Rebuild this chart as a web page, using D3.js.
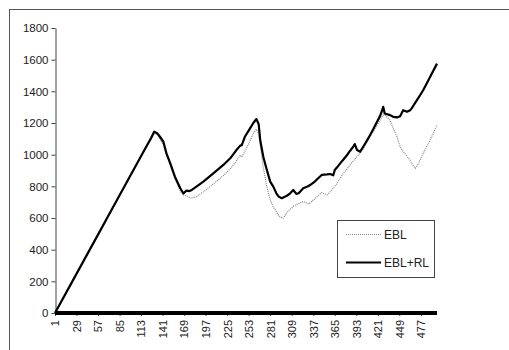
<!DOCTYPE html>
<html>
<head>
<meta charset="utf-8">
<script src="https://cdn.jsdelivr.net/npm/d3@7"></script>
<style>
  body { margin: 0; background: #fff; }
  svg { display: block; font-family: "Liberation Sans", Arial, sans-serif; }
</style>
</head>
<body>
<div id="chart"></div>
<script>
// sampled category positions (x axis runs 1..498)
let cats = [1, 20, 40, 60, 80, 100, 120, 126, 130, 134, 138, 142, 146, 151, 157, 164, 168, 172, 176, 179,
    185, 194, 207, 220, 229, 237, 242, 244, 248, 254, 259, 263, 266, 268, 272, 276, 281, 285, 289, 292,
    296, 298, 302, 307, 311, 315, 318, 324, 331, 335, 339, 342, 348, 355, 359, 363, 365, 368, 372, 376,
    381, 385, 389, 391, 394, 398, 402, 407, 411, 415, 420, 424, 426, 428, 430, 437, 441, 446, 450, 454,
    459, 463, 465, 470, 474, 480, 489, 498];

let ebl = [0, 165, 342, 518, 695, 870, 1045, 1095, 1130, 1130, 1095, 1060, 1000, 930, 850, 770, 745, 740, 730, 725,
    735, 765, 815, 868, 910, 960, 998, 985, 1019, 1080, 1134, 1160, 1130, 1060, 920, 810, 714, 670, 640, 615,
    600, 599, 630, 655, 672, 685, 690, 704, 689, 704, 720, 735, 760, 746, 767, 790, 800, 819, 850, 882,
    910, 935, 960, 970, 987, 1010, 1035, 1082, 1115, 1145, 1185, 1218, 1235, 1250, 1250, 1218, 1166, 1113, 1050, 1019,
    990, 966, 945, 914, 945, 1008, 1092, 1187];

let eblRl = [0, 168, 345, 522, 700, 876, 1053, 1105, 1145, 1135, 1110, 1082, 1008, 945, 861, 788, 755, 773, 770, 777,
    798, 830, 882, 935, 977, 1029, 1057, 1060, 1113, 1160, 1200, 1225, 1193, 1092, 987, 914, 830, 798, 756, 735,
    725, 730, 739, 756, 777, 752, 756, 788, 802, 815, 830, 845, 872, 875, 878, 870, 903, 920, 945, 968,
    998, 1025, 1050, 1067, 1029, 1019, 1050, 1090, 1124, 1160, 1208, 1245, 1271, 1302, 1260, 1250, 1239, 1235, 1243, 1281,
    1271, 1280, 1292, 1330, 1360, 1407, 1490, 1575];

let xTicks = [1, 29, 57, 85, 113, 141, 169, 197, 225, 253, 281, 309, 337, 365, 393, 421, 449, 477];
let yTicks = [0, 200, 400, 600, 800, 1000, 1200, 1400, 1600, 1800];
let seriesNames = ['EBL', 'EBL+RL'];

let width = 509;
let height = 350;
let svg = d3.select('#chart')
    .append('svg')
    .attr('width', width)
    .attr('height', height);

// outer chart frame
svg.append('rect')
    .attr('x', 9.5).attr('y', 9.5)
    .attr('width', 520).attr('height', 360)
    .attr('fill', 'none')
    .attr('stroke', '#555');

var x = d3.scaleLinear()
    .domain([1, 498])
    .range([55, 437]);

var y = d3.scaleLinear()
    .domain([0, 1800])
    .range([313, 28]);

// y axis
let yAxis = svg.append('g')
    .attr('transform', 'translate(55.5,0)')
    .call(d3.axisLeft(y).tickValues(yTicks).tickFormat(d3.format('d')).tickSize(4).tickSizeOuter(0).tickPadding(3));
yAxis.selectAll('text').attr('font-size', 11.5).attr('fill', '#222').attr('font-family', '"Liberation Sans", Arial, sans-serif');
yAxis.selectAll('line, path').attr('stroke', '#444');

// x axis with rotated labels
let xAxis = svg.append('g')
    .attr('transform', 'translate(0,313)')
    .call(d3.axisBottom(x).tickValues(xTicks).tickSize(3).tickSizeOuter(0));
xAxis.select('.domain').remove();
xAxis.selectAll('line').attr('stroke', '#444');
xAxis.selectAll('text')
    .attr('font-size', 11)
    .attr('fill', '#222')
    .attr('font-family', '"Liberation Sans", Arial, sans-serif')
    .attr('transform', 'rotate(-90)')
    .attr('text-anchor', 'end')
    .attr('x', -7)
    .attr('y', 0)
    .attr('dy', '0.35em');

// thick baseline along zero
svg.append('line')
    .attr('x1', x(1)).attr('x2', x(498))
    .attr('y1', y(0)).attr('y2', y(0))
    .attr('stroke', '#000')
    .attr('stroke-width', 4);

let line = d3.line()
    .x(function(d) { return x(d[0]); })
    .y(function(d) { return y(d[1]); });

svg.append('path')
    .datum(cats.map((c, i) => [c, ebl[i]]))
    .attr('d', line)
    .attr('fill', 'none')
    .attr('stroke', '#888')
    .attr('stroke-width', 1.2)
    .attr('stroke-dasharray', '1,1');

svg.append('path')
    .datum(cats.map((c, i) => [c, eblRl[i]]))
    .attr('d', line)
    .attr('fill', 'none')
    .attr('stroke', '#000')
    .attr('stroke-width', 2.2)
    .attr('stroke-linejoin', 'round');

// legend
let legend = svg.append('g');
legend.append('rect')
    .attr('x', 337.5).attr('y', 220.5)
    .attr('width', 97).attr('height', 57)
    .attr('fill', '#fff')
    .attr('stroke', '#444');

seriesNames.forEach((name, i) => {
    let ly = 234.5 + i * 28;
    legend.append('line')
        .attr('x1', 346).attr('x2', 381)
        .attr('y1', ly).attr('y2', ly)
        .attr('stroke', i == 0 ? '#888' : '#000')
        .attr('stroke-width', i == 0 ? 1.2 : 2.2)
        .attr('stroke-dasharray', i == 0 ? '1,1' : null);
    legend.append('text')
        .attr('x', 384).attr('y', ly + 4.5)
        .attr('font-size', 12)
        .attr('fill', '#222')
        .text(name);
});
</script>
</body>
</html>
